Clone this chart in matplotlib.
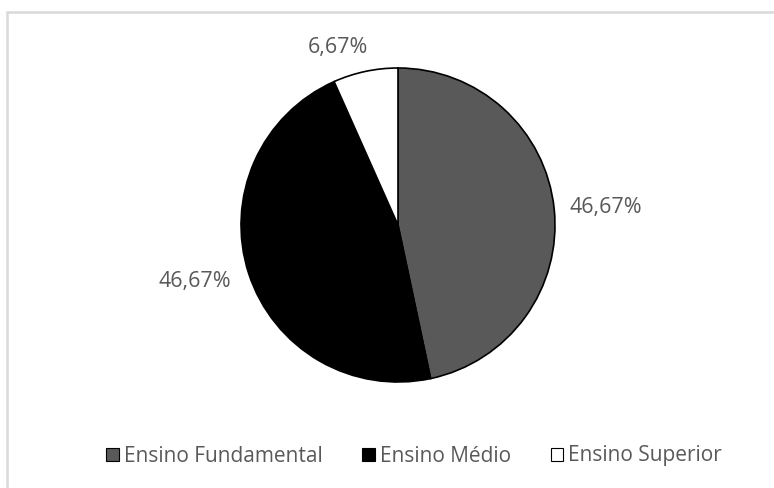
import matplotlib
matplotlib.use("Agg")
import matplotlib.pyplot as plt
from matplotlib.patches import Rectangle

categories = ["Ensino Fundamental", "Ensino Médio", "Ensino Superior"]
values = [46.67, 46.67, 6.67]
colors = ["#595959", "#000000", "#ffffff"]
labels = ["46,67%", "46,67%", "6,67%"]

plt.rcParams["font.family"] = ["Open Sans", "DejaVu Sans"]
W, H = 774, 488
fig = plt.figure(figsize=(W / 100, H / 100), dpi=100)
ax = fig.add_axes([0, 0, 1, 1])

# light frame around the chart area
ax.add_patch(Rectangle((7, -20), W + 20, H - 12 + 20, fill=False,
                       edgecolor="#d9d9d9", linewidth=1.8))

cx, cy, r = 398, H - 225, 157
wedges, _ = ax.pie(values, colors=colors, startangle=90, counterclock=False,
                   center=(cx, cy), radius=r, frame=True,
                   wedgeprops=dict(edgecolor="black", linewidth=1.2))
ax.set_xlim(0, W)
ax.set_ylim(0, H)
ax.set_aspect("equal")
ax.axis("off")

label_pos = [(606, 207), (195, 281), (338, 47)]
for txt, (x, y) in zip(labels, label_pos):
    ax.text(x, H - y, txt, ha="center", va="center", fontsize=15.5, color="#595959")

leg = fig.legend(wedges, categories, loc="center", bbox_to_anchor=(414 / W, 1 - 456 / H),
                 ncol=3, frameon=False, fontsize=15, handlelength=0.6, handleheight=0.6,
                 handletextpad=0.25, columnspacing=1.9)
for t in leg.get_texts():
    t.set_color("#595959")
for h in leg.legend_handles:
    h.set_linewidth(0.8)
    h.set_edgecolor("black")

fig.savefig("out.png", dpi=100)
